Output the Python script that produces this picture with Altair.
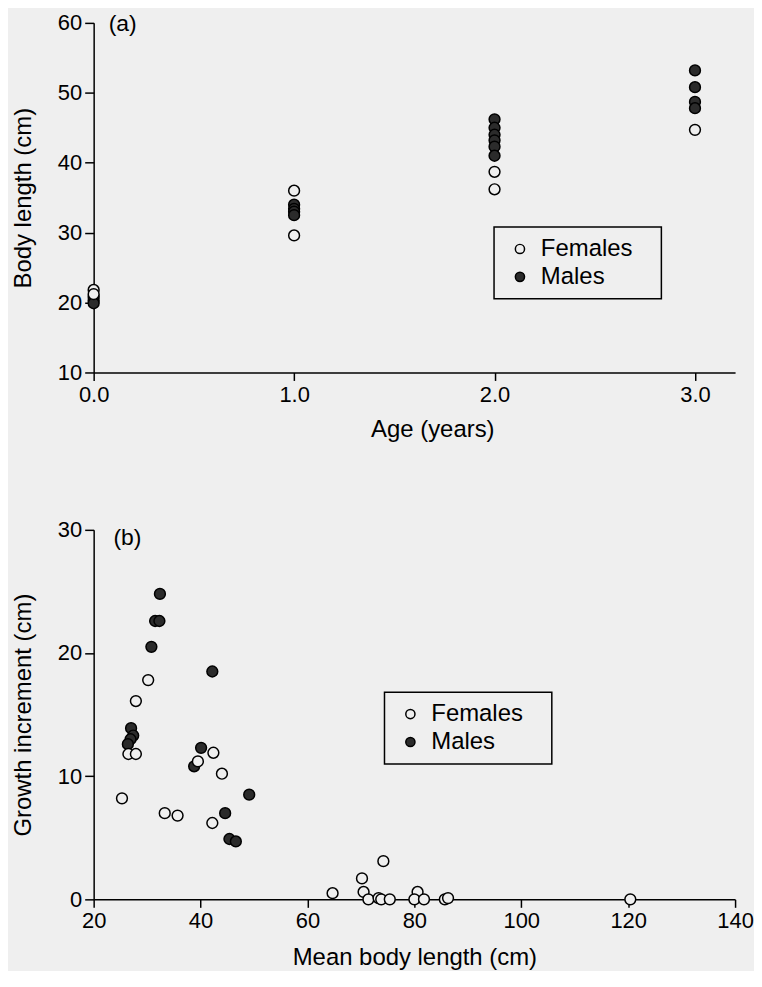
import altair as alt
import pandas as pd

BG = "#efefef"
DARK = "#2b2b2b"
FONT = "Liberation Sans"

# ---------- Panel (a): body length vs age ----------
age_f = [0, 0, 1, 1, 2, 2, 3]
len_f = [21.8, 21.2, 36.0, 29.6, 38.7, 36.2, 44.7]
age_m = [0, 0, 0, 1, 1, 1, 1, 2, 2, 2, 2, 2, 2, 3, 3, 3, 3]
len_m = [20.8, 20.3, 19.9, 34.0, 33.4, 33.0, 32.5,
         46.2, 45.0, 44.0, 43.2, 42.3, 41.0,
         53.2, 50.8, 48.7, 47.8]

# ---------- Panel (b): growth increment vs mean body length ----------
mlen_f = [30.2, 27.9, 26.5, 27.9, 42.4, 39.5, 44.0, 25.3, 33.3, 35.7, 42.2,
          64.7, 70.2, 74.2, 70.5, 71.4, 73.3, 73.8, 75.4, 80.6, 80.0, 81.8,
          85.7, 86.3, 120.4]
inc_f = [17.8, 16.1, 11.8, 11.8, 11.9, 11.2, 10.2, 8.2, 7.0, 6.8, 6.2,
         0.5, 1.7, 3.1, 0.6, 0.0, 0.1, 0.0, 0.0, 0.6, 0.0, 0.0,
         0.0, 0.1, 0.0]
mlen_m = [32.4, 31.5, 32.3, 30.8, 42.2, 27.0, 27.4, 26.9, 26.4,
          40.1, 38.8, 49.1, 44.6, 45.4, 46.6]
inc_m = [24.8, 22.6, 22.6, 20.5, 18.5, 13.9, 13.3, 13.0, 12.6,
         12.3, 10.8, 8.5, 7.0, 4.9, 4.7]

groups = ["Females", "Males"]
panel_labels = ["(a)", "(b)"]

df_a = pd.DataFrame({
    "age": age_m + age_f,
    "length": len_m + len_f,
    "Sex": ["Males"] * len(age_m) + ["Females"] * len(age_f),
})
df_b = pd.DataFrame({
    "mlen": mlen_m + mlen_f,
    "inc": inc_m + inc_f,
    "Sex": ["Males"] * len(mlen_m) + ["Females"] * len(mlen_f),
})
lab_a = pd.DataFrame({"age": [0.075], "length": [59.9], "t": [panel_labels[0]]})
lab_b = pd.DataFrame({"mlen": [23.7], "inc": [29.3], "t": [panel_labels[1]]})

pad = "\u2800"


def legend(x, y):
    return alt.Legend(
        title=None, orient="none", legendX=x, legendY=y,
        labelExpr="datum.label + '" + pad + "'",
        symbolStrokeColor="black", symbolStrokeWidth=1.5,
        symbolType="circle",
    )


fill_scale = alt.Scale(domain=groups, range=[BG, DARK])

xa = alt.X("age:Q", scale=alt.Scale(domain=[0, 3.2], nice=False, zero=False),
           axis=alt.Axis(values=[0, 1, 2, 3], format=".1f", title="Age (years)",
                         titleX=340, titlePadding=12, labelPadding=4, tickSize=8,
                         labelFlush=False))
ya = alt.Y("length:Q", scale=alt.Scale(domain=[10, 60], nice=False, zero=False),
           axis=alt.Axis(values=[10, 20, 30, 40, 50, 60], title="Body length (cm)",
                         titlePadding=22))

pts_a = alt.Chart(df_a).mark_point(
    filled=True, size=118, stroke="black", strokeWidth=1.5, opacity=1
).encode(
    x=xa, y=ya,
    fill=alt.Fill("Sex:N", scale=fill_scale, legend=legend(402, 205)),
)
txt_a = alt.Chart(lab_a).mark_text(
    align="left", baseline="middle", fontSize=23, color="black"
).encode(x=xa, y=ya, text="t:N")
chart_a = alt.layer(pts_a, txt_a).properties(width=644, height=351)

xb = alt.X("mlen:Q", scale=alt.Scale(domain=[20, 140], nice=False, zero=False),
           axis=alt.Axis(values=[20, 40, 60, 80, 100, 120, 140],
                         title="Mean body length (cm)", titlePadding=14,
                         labelPadding=3, tickSize=8, labelFlush=False))
yb = alt.Y("inc:Q", scale=alt.Scale(domain=[0, 30], nice=False, zero=False),
           axis=alt.Axis(values=[0, 10, 20, 30], title="Growth increment (cm)",
                         titlePadding=22))

pts_b = alt.Chart(df_b).mark_point(
    filled=True, size=118, stroke="black", strokeWidth=1.5, opacity=1
).encode(
    x=xb, y=yb,
    fill=alt.Fill("Sex:N", scale=fill_scale, legend=legend(292, 163)),
)
txt_b = alt.Chart(lab_b).mark_text(
    align="left", baseline="middle", fontSize=23, color="black"
).encode(x=xb, y=yb, text="t:N")
chart_b = alt.layer(pts_b, txt_b).properties(width=644, height=371)

chart = alt.vconcat(chart_a, chart_b, spacing=78).resolve_scale(
    fill="independent"
).configure(
    font=FONT, background=BG,
    padding={"left": 3, "top": 2, "right": 0, "bottom": 0},
).configure_view(
    strokeWidth=0
).configure_axis(
    domainColor="black", tickColor="black", labelColor="black",
    titleColor="black", domainWidth=1.5, tickWidth=1.5, grid=False,
    labelFontSize=22, titleFontSize=24, titleFontWeight="normal",
    tickSize=9, labelPadding=3, labelFont=FONT, titleFont=FONT,
).configure_legend(
    strokeColor="black", strokeWidth=1.5, padding=10, labelFontSize=24,
    symbolSize=85, rowPadding=4, labelOffset=9, symbolOffset=4,
    fillColor=BG, labelColor="black", labelFont=FONT,
)

chart.save("out.html", embed_options={"renderer": "svg", "actions": False})
